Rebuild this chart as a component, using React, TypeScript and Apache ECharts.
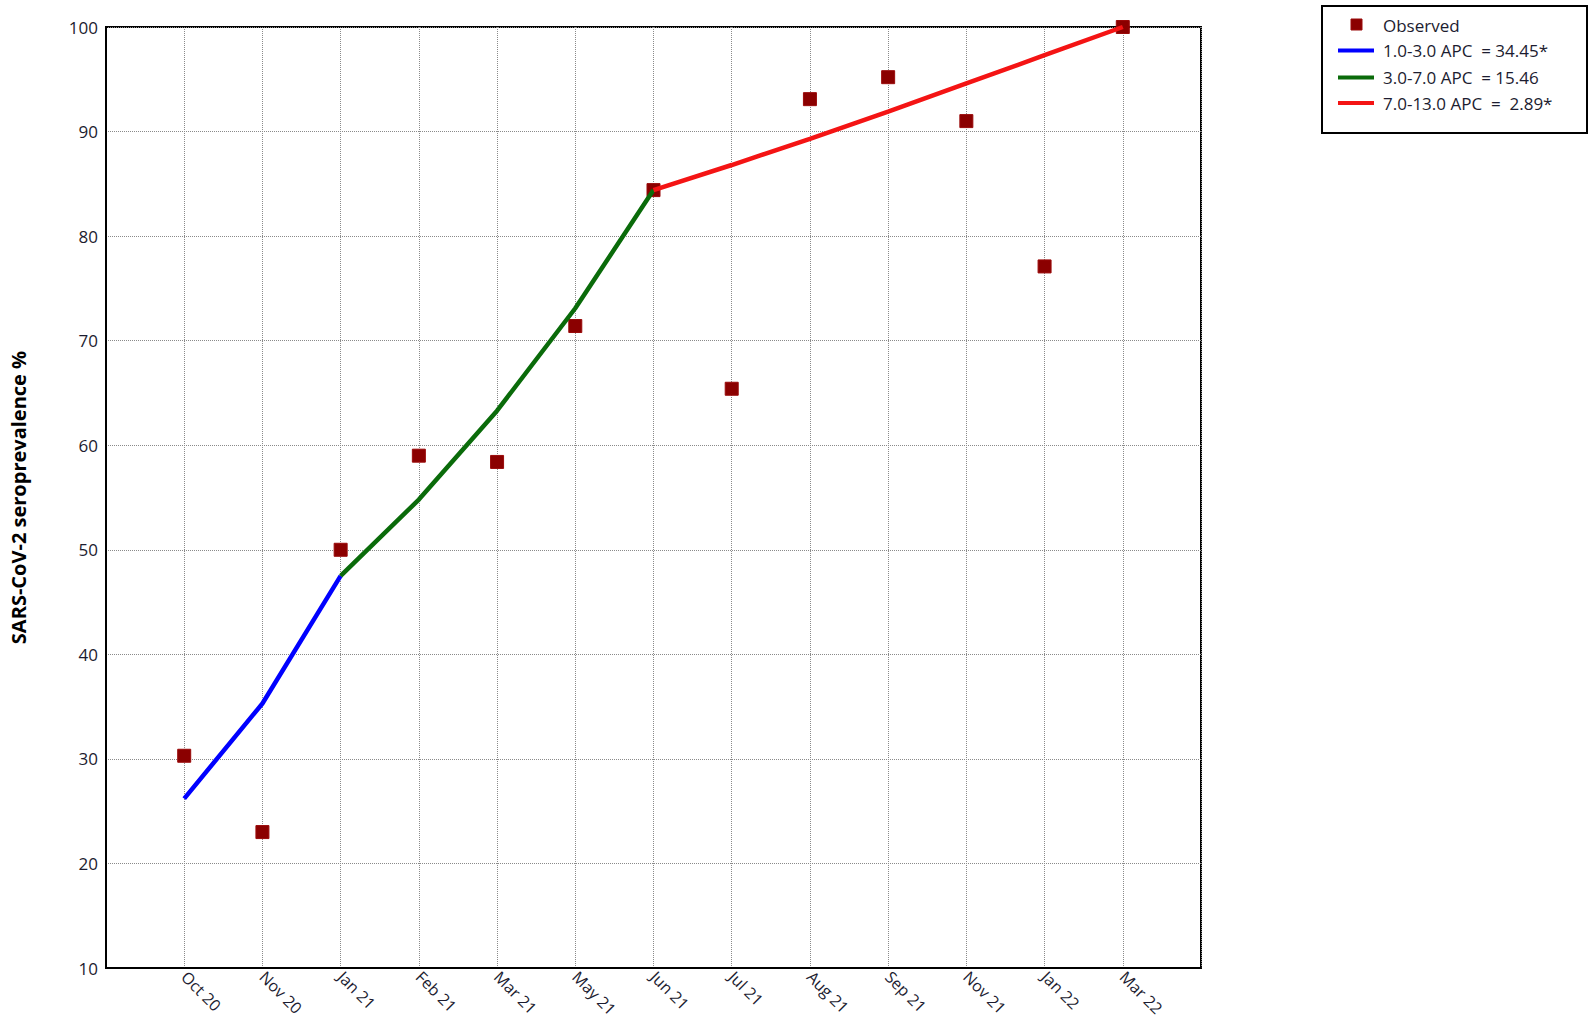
import React, { useEffect, useRef } from "react";
import * as echarts from "echarts";

const categories = ["Oct 20", "Nov 20", "Jan 21", "Feb 21", "Mar 21", "May 21", "Jun 21", "Jul 21", "Aug 21", "Sep 21", "Nov 21", "Jan 22", "Mar 22"];
const observed = [30.3, 23.0, 50.0, 59.0, 58.4, 71.4, 84.4, 65.4, 93.1, 95.2, 91.0, 77.1, 100.0];

const seg1X = [1, 2, 3];
const seg1Y = [26.2, 35.3, 47.5];
const seg2X = [3, 4, 5, 6, 7];
const seg2Y = [47.5, 54.8, 63.3, 73.1, 84.4];
const seg3X = [7, 8, 9, 10, 11, 12, 13];
const seg3Y = [84.4, 86.8, 89.3, 91.9, 94.6, 97.3, 100.0];

const legendNames = ["Observed", "1.0-3.0 APC  = 34.45*", "3.0-7.0 APC  = 15.46", "7.0-13.0 APC  =  2.89*"];
const lineColors = ["#0000ff", "#0a6b0a", "#f41414"];
const yTicks = [10, 20, 30, 40, 50, 60, 70, 80, 90, 100];

const FONT = "'Open Sans', 'Noto Sans', sans-serif";
const TEXT = "#1c1c30";

export default function App() {
  const ref = useRef<HTMLDivElement>(null);
  useEffect(() => {
    if (!ref.current) return;
    const chart = echarts.init(ref.current, null, { renderer: "svg" });
    const pairs = (xs: number[], ys: number[]) => xs.map((x, i) => [x, ys[i]]);
    const rowY = [25, 50.5, 77.5, 103];
    const legendChildren: any[] = [
      { type: "rect", shape: { x: 1322, y: 6, width: 265, height: 127 }, style: { fill: "#fff", stroke: "#000", lineWidth: 2 } },
      { type: "rect", shape: { x: 1351, y: rowY[0] - 6, width: 11, height: 11 }, style: { fill: "#8b0000", stroke: "#9a0a0a", lineWidth: 1 } },
    ];
    for (let i = 0; i < 3; i++) {
      legendChildren.push({ type: "line", shape: { x1: 1338, y1: rowY[i + 1], x2: 1374, y2: rowY[i + 1] }, style: { stroke: lineColors[i], lineWidth: 4 } });
    }
    legendNames.forEach((n, i) => {
      legendChildren.push({ type: "text", x: 1383, y: rowY[i], style: { text: n, fill: TEXT, font: `17px ${FONT}`, textVerticalAlign: "middle", verticalAlign: "middle" } });
    });
    chart.setOption({
      animation: false,
      backgroundColor: "#fff",
      grid: { left: 106, right: 394, top: 27, bottom: 56, show: true, borderColor: "#000", borderWidth: 2, backgroundColor: "transparent", containLabel: false },
      xAxis: {
        type: "value", min: 0, max: 14, interval: 1,
        axisLine: { show: true, lineStyle: { color: "#000", width: 2 } },
        axisTick: { show: false },
        splitLine: { show: true, lineStyle: { color: "#8a8a8a", type: "dotted", width: 1 } },
        axisLabel: {
          rotate: -45, margin: 6, color: TEXT, fontFamily: FONT, fontSize: 16,
          formatter: (v: number) => (v >= 1 && v <= categories.length ? categories[v - 1] : ""),
        },
      },
      yAxis: {
        type: "value", min: yTicks[0], max: yTicks[yTicks.length - 1], interval: 10,
        name: "SARS-CoV-2 seroprevalence %", nameLocation: "middle", nameGap: 78,
        nameTextStyle: { color: "#000", fontFamily: FONT, fontSize: 20, fontWeight: "bold" },
        axisLine: { show: true, lineStyle: { color: "#000", width: 2 } },
        axisTick: { show: false },
        splitLine: { show: true, lineStyle: { color: "#8a8a8a", type: "dotted", width: 1 } },
        axisLabel: { color: TEXT, fontFamily: FONT, fontSize: 17, margin: 8 },
      },
      graphic: [{ type: "group", children: legendChildren }],
      series: [
        {
          type: "scatter", name: legendNames[0], symbol: "rect", symbolSize: 13, z: 2,
          itemStyle: { color: "#8b0000", borderColor: "#9a0a0a", borderWidth: 1, opacity: 1 },
          data: observed.map((v, i) => [i + 1, v]),
        },
        { type: "line", name: legendNames[1], data: pairs(seg1X, seg1Y), showSymbol: false, symbol: "none", z: 3, lineStyle: { color: lineColors[0], width: 4.5 } },
        { type: "line", name: legendNames[2], data: pairs(seg2X, seg2Y), showSymbol: false, symbol: "none", z: 3, lineStyle: { color: lineColors[1], width: 4.5 } },
        { type: "line", name: legendNames[3], data: pairs(seg3X, seg3Y), showSymbol: false, symbol: "none", z: 3, lineStyle: { color: lineColors[2], width: 4.5 } },
      ],
    });
    return () => chart.dispose();
  }, []);
  return <div ref={ref} style={{ width: 1595, height: 1024, position: "absolute", left: 0, top: 0 }} />;
}
